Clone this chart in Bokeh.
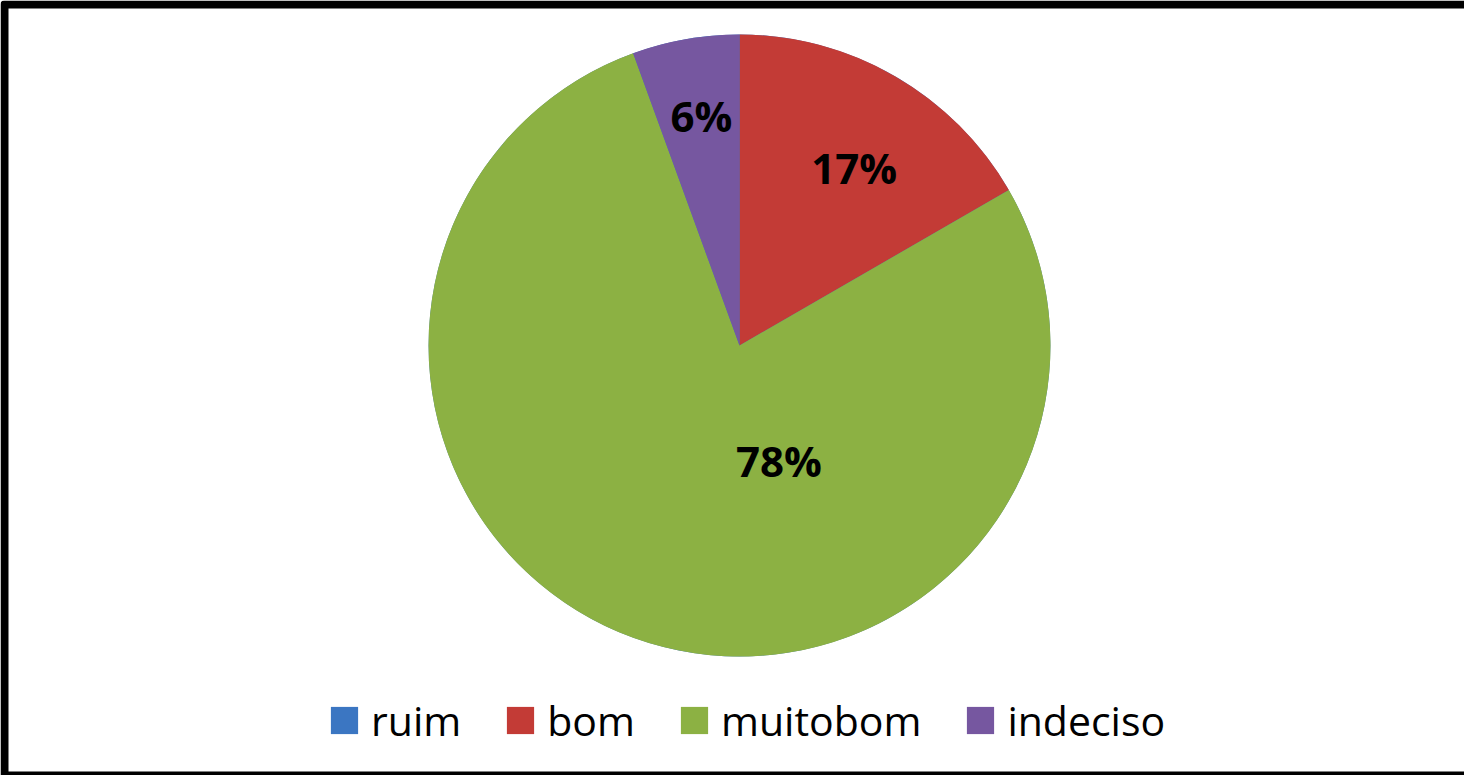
import math
from bokeh.plotting import figure
from bokeh.models import Range1d, ColumnDataSource, Legend, LegendItem
from bokeh.core.properties import value
from bokeh.embed import file_html
from bokeh.resources import INLINE

# ---- data ----
categories = ["ruim", "bom", "muitobom", "indeciso"]
counts = [0, 3, 14, 1]
colors = ["#3b76c2", "#c33b36", "#8cb143", "#7657a0"]

# ---- layout (style) ----
W, H = 1464, 775
CX, CY, R = 739, 430, 311
# label placement: fraction of radius and angle (deg, clockwise from 12 o'clock)
label_rfrac = [0.0, 0.68, 0.39, 0.75]
label_angle = [0.0, 32.8, 161.0, -9.4]

total = sum(counts)
fracs = [c / total for c in counts]
starts, ends = [], []
acc = 0.0
for f in fracs:
    starts.append(math.pi / 2 - acc * 2 * math.pi)
    acc += f
    ends.append(math.pi / 2 - acc * 2 * math.pi)

src = ColumnDataSource(dict(cat=categories, start=starts, end=ends, color=colors,
                            x=[CX] * len(categories), y=[CY] * len(categories)))

p = figure(width=W, height=H, x_range=Range1d(0, W), y_range=Range1d(0, H),
           output_backend="svg", toolbar_location=None, min_border=0)
p.axis.visible = False
p.grid.visible = False
p.outline_line_color = None
p.background_fill_color = "white"
p.border_fill_color = "white"

wr = p.wedge(x="x", y="y", radius=R, start_angle="start", end_angle="end",
             direction="clock", fill_color="color", line_color=None, source=src)

# labels
lx, ly, lt = [], [], []
for i, c in enumerate(counts):
    if c == 0:
        continue
    a = math.radians(label_angle[i])
    lx.append(CX + R * label_rfrac[i] * math.sin(a))
    ly.append(CY + R * label_rfrac[i] * math.cos(a))
    lt.append(f"{round(fracs[i] * 100)}%")
p.text(x=lx, y=ly, text=lt, text_font=value("Open Sans"), text_font_style="bold",
       text_font_size="42px", text_align="center", text_baseline="middle", text_color="black")

# legend
items = [LegendItem(label=categories[i], renderers=[wr], index=i) for i in range(len(categories))]
legend = Legend(items=items, orientation="horizontal", location=(327, 27),
                glyph_width=34, glyph_height=34, label_standoff=10, spacing=42,
                padding=0, margin=0, border_line_color=None, background_fill_alpha=0,
                label_text_font="Open Sans", label_text_font_size="41px",
                label_text_color="black")
p.add_layout(legend, "center")

# chart frame border (left, top and bottom visible; right side lies beyond the view)
p.quad(left=[4], right=[W + 60], bottom=[0], top=[H - 4], fill_color=None,
       line_color="black", line_width=8, line_join="round")

open("out.html", "w").write(file_html(p, INLINE))
